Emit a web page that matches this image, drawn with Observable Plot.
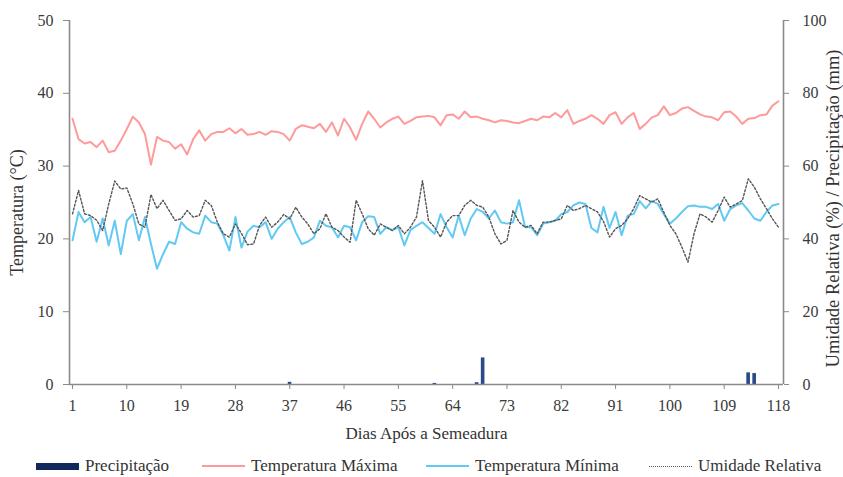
<!DOCTYPE html>
<html><head><meta charset="utf-8">
<script src="https://cdn.jsdelivr.net/npm/d3@7"></script>
<script src="https://cdn.jsdelivr.net/npm/@observablehq/plot@0.6"></script>
<style>
body{margin:0;background:#fff;font-family:"Liberation Serif","Times New Roman",serif;}
#chart{position:relative;width:843px;height:477px;overflow:hidden}
#chart svg{display:block}
.legend{position:absolute;top:452px;left:0;width:843px;height:25px;font-size:17px;color:#333}
.item{position:absolute;top:0;height:28px;display:flex;align-items:center;white-space:nowrap}
.sw{display:inline-block;width:43px;margin-right:6px}
</style></head><body><div id="chart"></div>
<script>
// Temperatura máxima (°C), dias 1..118
const tmax = [36.5,33.7,33.1,33.3,32.6,33.5,31.9,32.1,33.5,35.1,
36.8,36.0,34.4,30.2,34.0,33.5,33.3,32.4,33.0,31.6,
33.7,34.9,33.5,34.4,34.7,34.7,35.2,34.5,35.1,34.3,
34.4,34.7,34.3,34.8,34.7,34.4,33.5,35.1,35.6,35.4,
35.2,35.8,34.7,36.0,34.2,36.5,35.3,33.6,35.8,37.5,
36.5,35.3,36.0,36.5,36.8,35.8,36.2,36.7,36.8,36.9,
36.7,35.6,37.0,37.1,36.5,37.5,36.7,36.8,36.5,36.3,
36.0,36.3,36.2,36.0,35.9,36.2,36.5,36.3,36.8,36.7,
37.3,36.7,37.7,35.8,36.2,36.5,37.0,36.5,35.8,37.0,
37.4,35.8,36.7,37.3,35.1,35.8,36.7,37.0,38.2,37.0,
37.3,37.9,38.1,37.6,37.1,36.8,36.7,36.3,37.4,37.5,
36.8,35.8,36.5,36.6,37.0,37.1,38.3,38.9];
// Temperatura mínima (°C)
const tmin = [19.8,23.7,22.3,23.0,19.6,22.8,19.1,22.5,17.9,22.5,
23.4,19.8,23.0,19.3,15.9,17.9,19.6,19.3,22.3,21.4,
20.9,20.7,23.2,22.3,22.1,20.5,18.4,23.0,18.8,21.0,
21.8,21.6,22.3,20.0,21.4,22.3,23.0,20.9,19.3,19.6,
20.2,22.5,21.8,21.6,20.2,21.8,21.6,19.8,22.3,23.1,
23.0,20.7,21.6,21.2,21.6,19.1,21.2,21.8,22.3,21.5,
20.7,23.4,21.6,20.2,23.2,20.5,22.8,24.1,23.7,22.8,
23.9,22.3,22.1,22.3,25.3,21.6,21.6,20.5,22.1,22.3,
22.5,23.4,23.7,24.6,25.0,24.8,21.5,20.9,24.4,21.5,
23.7,20.5,23.2,23.4,25.2,24.2,25.2,24.8,23.4,22.1,
22.8,23.7,24.5,24.6,24.4,24.4,24.1,24.8,22.5,24.1,
24.6,24.9,23.9,22.8,22.5,23.7,24.6,24.8];
// Umidade relativa (%)
const rh = [46.9,53.3,46.9,46.4,45.1,42.3,49.6,55.9,53.7,54.0,
49.6,44.1,43.2,52.2,48.3,50.6,47.8,45.1,45.5,47.8,
46.0,46.4,50.6,49.2,44.6,41.4,40.5,44.1,41.5,38.4,
38.6,43.7,46.0,43.2,44.6,46.7,45.5,48.7,46.0,44.1,
41.4,42.8,46.9,43.2,42.3,40.5,39.1,50.6,46.9,42.8,
41.0,44.1,43.2,42.3,43.7,41.4,43.2,46.0,56.0,45.0,
43.2,40.5,44.6,46.4,46.4,49.2,50.6,49.2,48.7,46.0,
41.4,38.6,39.6,47.8,44.6,43.2,43.7,41.4,44.6,44.6,
45.1,45.5,49.2,47.8,48.3,49.2,48.3,47.4,44.8,40.5,
42.8,43.7,45.5,48.3,51.9,51.0,50.1,51.0,47.3,43.7,
41.4,37.7,33.6,41.4,46.9,46.0,44.6,47.8,51.5,48.7,
49.6,50.5,56.5,54.2,51.0,48.3,45.5,43.2];
// Precipitação (mm)
const precipDays = [37, 61, 68, 69, 113, 114];
const precipMm   = [0.6, 0.3, 0.5, 7.3, 3.2, 3.0];
// Ticks
const xTicks = [1,10,19,28,37,46,55,64,73,82,91,100,109,118];
const yTicks = [0,10,20,30,40,50];
const yRightTicks = [0,20,40,60,80,100];

const rows = tmax.map((v,i)=>({day:i+1, tmax:v, tmin:tmin[i], rh:rh[i]}));
const precip = precipDays.map((d,i)=>({day:d, mm:precipMm[i]}));
const ratio = 50/100; // right axis -> left axis
const xDom = [0.5, 118.83];
const axisColor = "#8a8a8a";

const plot = Plot.plot({
  width: 843, height: 452,
  marginLeft: 69, marginRight: 60, marginTop: 20, marginBottom: 68,
  x: {domain: xDom},
  y: {domain: [0, 50]},
  style: {fontFamily: "'Liberation Serif','Times New Roman',serif", fontSize: "16px", color: "#3a3a3a", background: "#fff"},
  marks: [
    Plot.rectY(precip, {x1: d=>d.day-0.25, x2: d=>d.day+0.35, y1: 0, y2: d=>d.mm*ratio, fill: "#2b4889"}),
    Plot.lineY(rows, {x:"day", y:"tmax", stroke:"#ff9a9a", strokeWidth:2}),
    Plot.lineY(rows, {x:"day", y:"tmin", stroke:"#62c9f4", strokeWidth:2}),
    Plot.lineY(rows, {x:"day", y:d=>d.rh*ratio, stroke:"#555", strokeWidth:1.4, strokeDasharray:"2,2"}),
    Plot.ruleY([0], {stroke: axisColor, strokeWidth: 1.6}),
    Plot.ruleX(xDom, {y1: 0, y2: 50, stroke: axisColor, strokeWidth: 1.6}),
    Plot.axisX({ticks: xTicks, tickSize: 5, tickPadding: 10, label: null, stroke: axisColor}),
    Plot.axisY({anchor: "left", ticks: yTicks, tickSize: 6, tickPadding: 10, label: null, stroke: axisColor}),
    Plot.axisY({anchor: "right", ticks: yTicks, tickFormat: d=>String(yRightTicks[yTicks.indexOf(d)]), tickSize: 5, tickPadding: 14, label: null, stroke: axisColor}),
    Plot.text(["Dias Após a Semeadura"], {frameAnchor: "bottom", dy: 54, text: d=>d, fontSize: 17, fill: "#333"}),
    Plot.text(["Temperatura (°C)"], {frameAnchor: "left", textAnchor: "middle", dx: -52, dy: 10, rotate: -90, text: d=>d, fontSize: 18, fill: "#333"}),
    Plot.text(["Umidade Relativa (%) / Precipitação (mm)"], {frameAnchor: "right", textAnchor: "middle", dx: 50, dy: 6, rotate: -90, text: d=>d, fontSize: 18.5, fill: "#333"})
  ]
});
const chart = document.getElementById("chart");
chart.appendChild(plot);

const legendItems = [
  {label: "Precipitação", left: 36, kind: "bar", color: "#10285c"},
  {label: "Temperatura Máxima", left: 202, kind: "line", color: "#ff9a9a"},
  {label: "Temperatura Mínima", left: 426, kind: "line", color: "#62c9f4"},
  {label: "Umidade Relativa", left: 649, kind: "dot", color: "#555"}
];
const lg = document.createElement("div");
lg.className = "legend";
for (const it of legendItems) {
  const el = document.createElement("div");
  el.className = "item";
  el.style.left = it.left + "px";
  const sw = document.createElement("span");
  sw.className = "sw";
  if (it.kind === "bar") { sw.style.height = "7px"; sw.style.background = it.color; }
  else if (it.kind === "line") { sw.style.height = "0"; sw.style.borderTop = "2px solid " + it.color; }
  else { sw.style.height = "0"; sw.style.borderTop = "1.5px dotted " + it.color; }
  el.appendChild(sw);
  const t = document.createElement("span");
  t.textContent = it.label;
  el.appendChild(t);
  lg.appendChild(el);
}
chart.appendChild(lg);
</script></body></html>
